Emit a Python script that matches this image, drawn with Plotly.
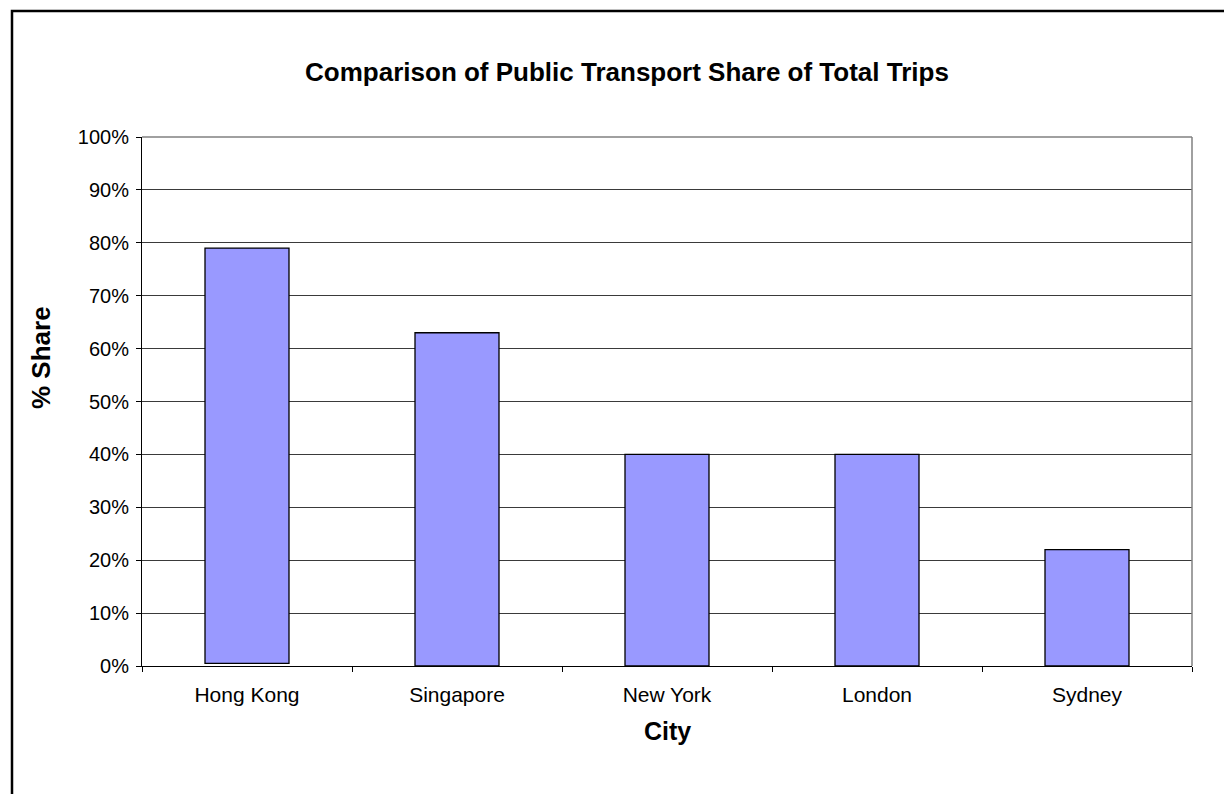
import plotly.graph_objects as go

# Public transport share of total trips by city
cities = ["Hong Kong", "Singapore", "New York", "London", "Sydney"]
share_pct = [79, 63, 40, 40, 22]
bar_base = [0.5, 0, 0, 0, 0]
y_ticks = list(range(0, 101, 10))
y_tick_labels = [f"{v}%" for v in y_ticks]

FONT = "Liberation Sans, Arial, sans-serif"

fig = go.Figure(
    go.Bar(
        x=cities,
        y=[s - b for s, b in zip(share_pct, bar_base)],
        base=bar_base,
        width=0.4,
        marker=dict(color="#9999FF", line=dict(color="#000000", width=1.3)),
        hoverinfo="skip",
    )
)

fig.update_layout(
    width=1224,
    height=794,
    margin=dict(l=142, r=32, t=137, b=128),
    paper_bgcolor="white",
    plot_bgcolor="white",
    showlegend=False,
    font=dict(family=FONT, size=20, color="#000000"),
    title=dict(
        text="<b>Comparison of Public Transport Share of Total Trips</b>",
        font=dict(family=FONT, size=26, color="#000000"),
        x=(627 - 142) / 1050, xref="paper", xanchor="center",
        y=1 - 72 / 794, yref="container", yanchor="middle",
    ),
)

fig.update_xaxes(
    type="category",
    range=[-0.5, 4.5],
    showline=True, linecolor="#000000", linewidth=1,
    ticks="outside", ticklen=5, tickcolor="#000000", tickwidth=1,
    tickson="boundaries",
    showgrid=False,
    tickfont=dict(family=FONT, size=21),
    ticklabelstandoff=10,
)
fig.update_yaxes(
    range=[0, 100],
    tickvals=y_ticks, ticktext=y_tick_labels,
    showline=True, linecolor="#000000", linewidth=1,
    ticks="outside", ticklen=5, tickcolor="#000000", tickwidth=1,
    showgrid=True, gridcolor="#3a3a3a", gridwidth=1,
    zeroline=False,
    tickfont=dict(family=FONT, size=20),
    ticklabelstandoff=3,
)

# Plot-area border (grey) on top and right
fig.add_shape(type="line", xref="paper", yref="paper", x0=0, x1=1, y0=1, y1=1,
              line=dict(color="#808080", width=1.5), layer="above")
fig.add_shape(type="line", xref="paper", yref="paper", x0=1, x1=1, y0=0, y1=1,
              line=dict(color="#808080", width=1.5), layer="above")

# Outer chart frame
fig.add_shape(type="rect", xref="paper", yref="paper",
              x0=(12 - 142) / 1050, x1=(1240 - 142) / 1050,
              y0=(666 - 810) / 529, y1=(666 - 11) / 529,
              line=dict(color="#000000", width=2.5), fillcolor="rgba(0,0,0,0)",
              layer="above")

# Axis titles
fig.add_annotation(text="<b>City</b>", xref="paper", yref="paper",
                   x=0.5, y=(666 - 731) / 529, xanchor="center", yanchor="middle",
                   showarrow=False, font=dict(family=FONT, size=25))
fig.add_annotation(text="<b>% Share</b>", xref="paper", yref="paper",
                   x=(41 - 142) / 1050, y=(666 - 358) / 529, xanchor="center", yanchor="middle",
                   textangle=-90, showarrow=False, font=dict(family=FONT, size=26))

fig.write_html("out.html")
